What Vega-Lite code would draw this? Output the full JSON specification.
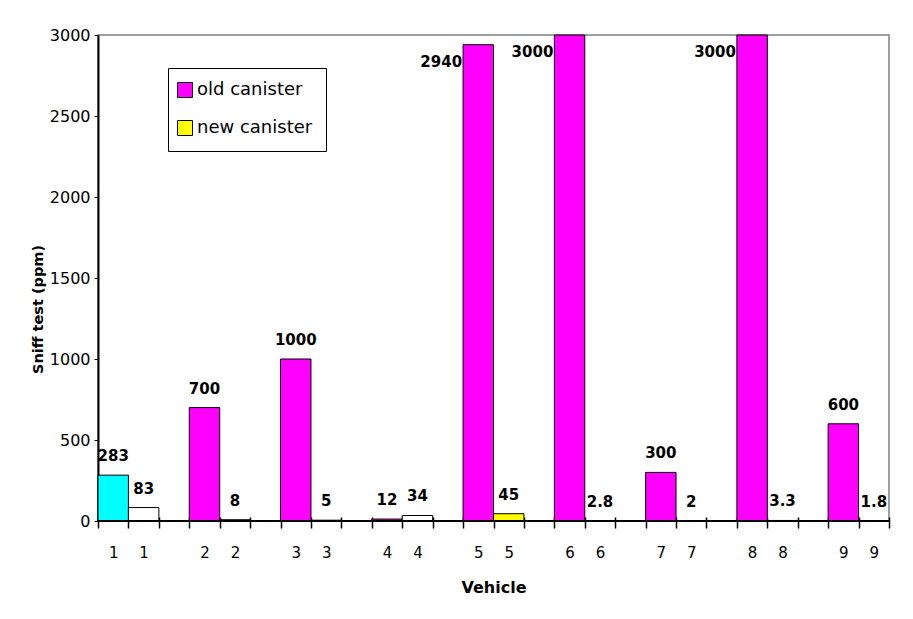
{
  "$schema": "https://vega.github.io/schema/vega-lite/v6.json",
  "width": 791,
  "height": 486,
  "autosize": {"type": "none"},
  "padding": {"left": 98, "top": 35, "right": 24, "bottom": 98},
  "background": "white",
  "config": {
    "font": "DejaVu Sans",
    "view": {"stroke": "#808080", "strokeWidth": 1.5}
  },
  "data": {
    "values": [
      {"vehicle": 1, "canister": "old canister", "ppm": 283},
      {"vehicle": 1, "canister": "new canister", "ppm": 83},
      {"vehicle": 2, "canister": "old canister", "ppm": 700},
      {"vehicle": 2, "canister": "new canister", "ppm": 8},
      {"vehicle": 3, "canister": "old canister", "ppm": 1000},
      {"vehicle": 3, "canister": "new canister", "ppm": 5},
      {"vehicle": 4, "canister": "old canister", "ppm": 12},
      {"vehicle": 4, "canister": "new canister", "ppm": 34},
      {"vehicle": 5, "canister": "old canister", "ppm": 2940},
      {"vehicle": 5, "canister": "new canister", "ppm": 45},
      {"vehicle": 6, "canister": "old canister", "ppm": 3000},
      {"vehicle": 6, "canister": "new canister", "ppm": 2.8},
      {"vehicle": 7, "canister": "old canister", "ppm": 300},
      {"vehicle": 7, "canister": "new canister", "ppm": 2},
      {"vehicle": 8, "canister": "old canister", "ppm": 3000},
      {"vehicle": 8, "canister": "new canister", "ppm": 3.3},
      {"vehicle": 9, "canister": "old canister", "ppm": 600},
      {"vehicle": 9, "canister": "new canister", "ppm": 1.8}
    ]
  },
  "transform": [
    {"calculate": "datum.vehicle + (datum.canister == 'old canister' ? ' old' : ' new')", "as": "slot"}
  ],
  "layer": [
    {
      "transform": [{"filter": "(datum.canister == 'old canister' && datum.vehicle != 1) || datum.vehicle == 5"}],
      "mark": {"type": "bar", "stroke": "black", "strokeWidth": 1},
      "encoding": {
        "x": {
          "field": "slot",
          "type": "nominal",
          "sort": null,
          "title": "Vehicle",
          "scale": {
            "domain": ["1 old", "1 new", "gap 1", "2 old", "2 new", "gap 2", "3 old", "3 new", "gap 3", "4 old", "4 new", "gap 4", "5 old", "5 new", "gap 5", "6 old", "6 new", "gap 6", "7 old", "7 new", "gap 7", "8 old", "8 new", "gap 8", "9 old", "9 new"],
            "paddingInner": 0,
            "paddingOuter": 0
          },
          "axis": {
            "orient": "bottom",
            "offset": -4,
            "domain": false,
            "tickBand": "extent",
            "tickSize": 11,
            "tickColor": "black",
            "tickWidth": 1.5,
            "labelExpr": "isString(datum.value) && indexof(datum.value, 'gap') != 0 ? split(datum.value, ' ')[0] : ''",
            "labelAngle": 0,
            "labelFont": "DejaVu Sans",
            "labelFontSize": 15,
            "labelColor": "black",
            "labelPadding": 17,
            "titleFont": "DejaVu Sans",
            "titleFontSize": 16,
            "titleFontWeight": "bold",
            "titleColor": "black",
            "titlePadding": 19
          }
        },
        "y": {
          "field": "ppm",
          "type": "quantitative",
          "title": "Sniff test (ppm)",
          "scale": {"domain": [0, 3000], "nice": false},
          "axis": {
            "values": [0, 500, 1000, 1500, 2000, 2500, 3000],
            "format": "d",
            "grid": false,
            "domainColor": "black",
            "domainWidth": 2,
            "tickColor": "black",
            "tickSize": 4,
            "tickWidth": 1,
            "labelFont": "DejaVu Sans",
            "labelFontSize": 16,
            "labelColor": "black",
            "labelPadding": 4,
            "titleFont": "DejaVu Sans",
            "titleFontSize": 14.5,
            "titleFontWeight": "bold",
            "titleColor": "black",
            "titlePadding": 4,
            "titleY": 274
          }
        },
        "fill": {
          "field": "canister",
          "type": "nominal",
          "scale": {"domain": ["old canister", "new canister"], "range": ["#FF00FF", "#FFFF00"]},
          "legend": {
            "orient": "none",
            "legendX": 70,
            "legendY": 33,
            "title": null,
            "symbolType": "square",
            "symbolSize": 225,
            "symbolStrokeColor": "black",
            "symbolStrokeWidth": 1,
            "symbolOffset": -5,
            "labelFont": "DejaVu Sans",
            "labelFontSize": 18,
            "labelColor": "black",
            "labelOffset": 3,
            "rowPadding": 18,
            "padding": 13,
            "strokeColor": "black",
            "fillColor": "white"
          }
        }
      }
    },
    {
      "transform": [{"filter": "datum.canister == 'old canister' && datum.vehicle == 1"}],
      "mark": {"type": "bar", "stroke": "black", "strokeWidth": 1, "fill": "#00FFFF"},
      "encoding": {
        "x": {"field": "slot", "type": "nominal", "sort": null},
        "y": {"field": "ppm", "type": "quantitative"}
      }
    },
    {
      "transform": [{"filter": "datum.canister == 'new canister' && datum.vehicle != 5"}],
      "mark": {"type": "bar", "stroke": "black", "strokeWidth": 1, "fill": "#FFFFFF"},
      "encoding": {
        "x": {"field": "slot", "type": "nominal", "sort": null},
        "y": {"field": "ppm", "type": "quantitative"}
      }
    },
    {
      "mark": {"type": "rule", "color": "black", "strokeWidth": 2},
      "encoding": {"y": {"datum": 0}}
    },
    {
      "transform": [{"filter": "datum.ppm < 2900"}],
      "mark": {"type": "text", "baseline": "alphabetic", "dy": -14, "font": "DejaVu Sans", "fontSize": 15, "fontWeight": "bold", "color": "black"},
      "encoding": {
        "x": {"field": "slot", "type": "nominal", "sort": null},
        "y": {"field": "ppm", "type": "quantitative"},
        "text": {"field": "ppm", "type": "nominal"}
      }
    },
    {
      "transform": [{"filter": "datum.ppm >= 2900"}],
      "mark": {"type": "text", "align": "right", "baseline": "alphabetic", "dx": -1, "dy": 22, "font": "DejaVu Sans", "fontSize": 15, "fontWeight": "bold", "color": "black"},
      "encoding": {
        "x": {"field": "slot", "type": "nominal", "sort": null, "bandPosition": 0},
        "y": {"field": "ppm", "type": "quantitative"},
        "text": {"field": "ppm", "type": "nominal"}
      }
    }
  ]
}
